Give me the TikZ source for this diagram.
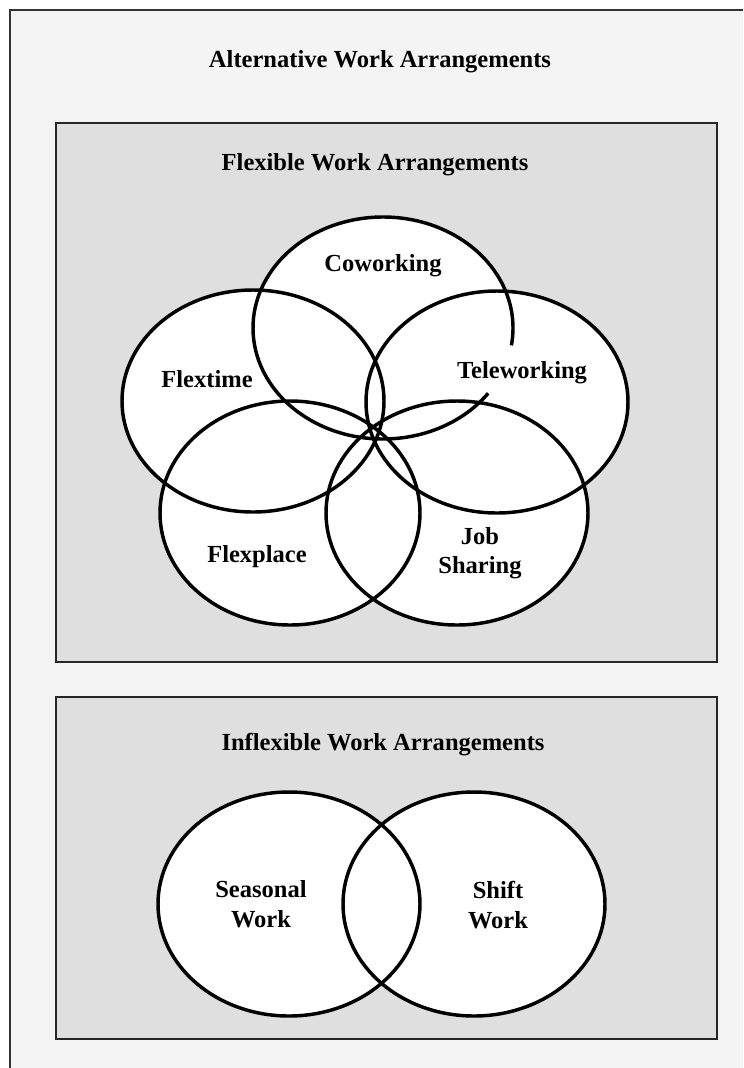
\documentclass[tikz,border=0pt]{standalone}
\usepackage{fontspec}
\setmainfont{Liberation Serif}
\usetikzlibrary{calc}
\definecolor{outergray}{HTML}{F4F4F4}
\definecolor{innergray}{HTML}{DFDFDF}
\begin{document}
\begin{tikzpicture}[x=0.75pt,y=-0.75pt,
  lbl/.style={font=\fontsize{18.4}{22}\selectfont\bfseries, align=center, inner sep=0pt, text=black},
  venn/.style={line width=2.6pt, draw=black},
  vennfill/.style={fill=white},
  box/.style={draw=black!85, line width=1.8pt, fill=innergray}]
\useasboundingbox (0,0) rectangle (743,1068);
\fill[white] (0,0) rectangle (743,1068);
\fill[outergray] (10,10) rectangle (743,1068);
\draw[line width=1.8pt, draw=black!80] (10,1068) -- (10,10) -- (743,10);
\node[lbl] (title) at (380,62) {Alternative Work Arrangements};

% flexible box
\draw[box] (56,123) rectangle (717,662);
\node[lbl] (flextitle) at (375,165) {Flexible Work Arrangements};

% fills
\fill[vennfill] (383,328) ellipse [x radius=130, y radius=111];
\fill[vennfill] (253,401) ellipse [x radius=131, y radius=111];
\fill[vennfill] (497,402) ellipse [x radius=131, y radius=111];
\fill[vennfill] (290,513) ellipse [x radius=130, y radius=112];
\fill[vennfill] (457,513) ellipse [x radius=131, y radius=112];
% outlines
\draw[venn] (253,401) ellipse [x radius=131, y radius=111];
\draw[venn] (497,402) ellipse [x radius=131, y radius=111];
\draw[venn] (290,513) ellipse [x radius=130, y radius=112];
\draw[venn] (457,513) ellipse [x radius=131, y radius=112];
\coordinate (cwstart) at ($(383,328)+({130*cos(36)},{111*sin(36)})$);
\draw[venn] (cwstart) arc[start angle=36, end angle=369, x radius=130, y radius=111];

\node[lbl] (cowork) at (383,266) {Coworking};
\node[lbl] (flextime) at (207,379) {Flextime};
\node[lbl] (telework) at (522,373) {Teleworking};
\node[lbl] (flexplace) at (257,557) {Flexplace};
\node[lbl] (jobshare) at (480,553) {Job\\Sharing};

% inflexible box
\draw[box] (56,697) rectangle (717,1039);
\node[lbl] (inflextitle) at (383,745) {Inflexible Work Arrangements};
\fill[vennfill] (289,904) ellipse [x radius=131, y radius=112];
\fill[vennfill] (474,904) ellipse [x radius=131, y radius=112];
\draw[venn] (289,904) ellipse [x radius=131, y radius=112];
\draw[venn] (474,904) ellipse [x radius=131, y radius=112];
\node[lbl] (seasonal) at (261,904) {Seasonal\\Work};
\node[lbl] (shift) at (498,905) {Shift\\Work};
\end{tikzpicture}
\end{document}
